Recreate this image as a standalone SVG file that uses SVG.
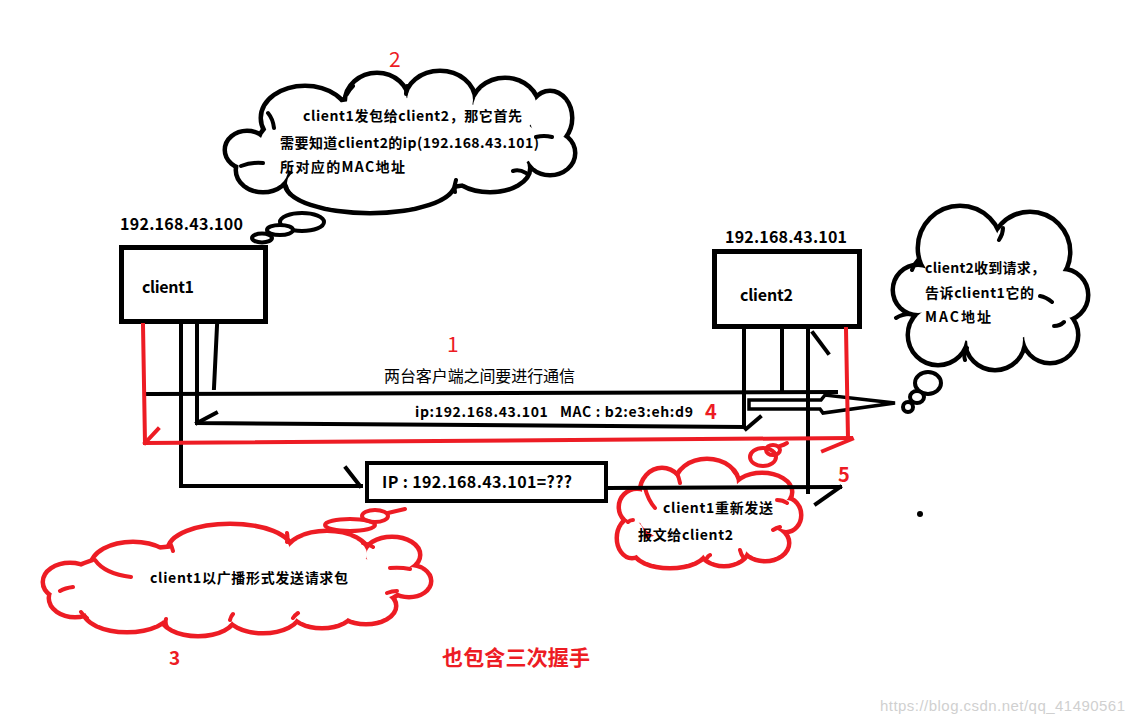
<svg xmlns="http://www.w3.org/2000/svg" width="1132" height="722" viewBox="0 0 1132 722">
<style>
.t{font-family:"Noto Sans CJK SC","Noto Sans",sans-serif;fill:#000}
.b{font-weight:bold}
.r{fill:#ed1c24}
.ln{fill:none;stroke:#000;stroke-width:4;stroke-linecap:square;stroke-linejoin:miter}
.rl{fill:none;stroke:#ed1c24;stroke-width:4;stroke-linecap:square;stroke-linejoin:miter}
.box{fill:#fff;stroke:#000;stroke-width:5}
.kb{fill:#000;stroke:#000;stroke-width:9}
.rb{fill:#ed1c24;stroke:#ed1c24;stroke-width:9}
.kw{fill:#fff;stroke:none}
.hk{fill:none;stroke:#000;stroke-width:4;stroke-linecap:round}
.hr{fill:none;stroke:#ed1c24;stroke-width:4;stroke-linecap:round}
.bub{fill:#fff;stroke:#000;stroke-width:4}
.bubr{fill:none;stroke:#ed1c24;stroke-width:4}
</style>
<defs>
<g id="shTop">
<ellipse cx="305" cy="118" rx="42" ry="30"/><ellipse cx="377" cy="102" rx="30" ry="27"/><ellipse cx="440" cy="100" rx="33" ry="27"/><ellipse cx="505" cy="108" rx="32" ry="28"/><ellipse cx="550" cy="118" rx="20" ry="25"/><ellipse cx="550" cy="153" rx="23" ry="20"/><ellipse cx="490" cy="168" rx="38" ry="22"/><ellipse cx="370" cy="183" rx="83" ry="28"/><ellipse cx="263" cy="170" rx="25" ry="20"/><ellipse cx="247" cy="150" rx="20" ry="17"/><ellipse cx="400" cy="143" rx="140" ry="45"/>
</g>
<g id="shRight">
<circle cx="960" cy="248" r="40"/><circle cx="1030" cy="252" r="38"/><circle cx="1062" cy="295" r="24"/><circle cx="1050" cy="335" r="26"/><circle cx="995" cy="340" r="28"/><circle cx="938" cy="335" r="28"/><circle cx="918" cy="290" r="23"/><ellipse cx="990" cy="292" rx="68" ry="52"/>
</g>
<g id="shBL">
<ellipse cx="70" cy="582" rx="25" ry="17"/><ellipse cx="133" cy="566" rx="40" ry="22"/><ellipse cx="230" cy="550" rx="60" ry="24"/><ellipse cx="327" cy="554" rx="40" ry="21"/><ellipse cx="392" cy="555" rx="26" ry="16"/><ellipse cx="409" cy="581" rx="20" ry="14"/><ellipse cx="366" cy="606" rx="28" ry="16"/><ellipse cx="322" cy="610" rx="30" ry="16"/><ellipse cx="263" cy="613" rx="35" ry="18"/><ellipse cx="198" cy="615" rx="36" ry="19"/><ellipse cx="127" cy="610" rx="42" ry="20"/><ellipse cx="75" cy="598" rx="24" ry="17"/><ellipse cx="235" cy="582" rx="170" ry="36"/>
</g>
<g id="shBM">
<ellipse cx="662" cy="492" rx="20" ry="22"/><ellipse cx="707" cy="484" rx="30" ry="23"/><ellipse cx="762" cy="492" rx="28" ry="17"/><ellipse cx="786" cy="515" rx="13" ry="15"/><ellipse cx="765" cy="543" rx="22" ry="16"/><ellipse cx="724" cy="548" rx="23" ry="16"/><ellipse cx="670" cy="550" rx="35" ry="16"/><ellipse cx="632" cy="538" rx="13" ry="18"/><ellipse cx="637" cy="507" rx="16" ry="16"/><ellipse cx="710" cy="515" rx="72" ry="33"/>
</g>
</defs>
<rect x="0" y="0" width="1132" height="722" fill="#fff"/>

<g id="cloud-top">
<use href="#shTop" class="kb"/><use href="#shTop" class="kw"/>
<path class="hk" d="M268,113 q5,6 6,15 M353,86 q-4,4 -6,8 M407,86 q-1,4 -1,8 M536,137 q8,-2 16,0 M513,171 q6,-2 13,2 M455,192 q-1,-6 1,-12 M290,194 q-3,-3 -4,-8 M241,166 q10,-4 22,-3"/>
<ellipse class="bub" cx="302" cy="222" rx="22" ry="9"/>
<ellipse class="bub" cx="280" cy="230" rx="13" ry="5"/>
<ellipse class="bub" cx="262" cy="238" rx="10" ry="4.5"/>
<text class="t b" x="303" y="121" font-size="14" textLength="219">client1发包给client2，那它首先</text>
<text class="t b" x="280" y="148" font-size="14" textLength="259">需要知道client2的ip(192.168.43.101)</text>
<text class="t b" x="280" y="172" font-size="14" textLength="125">所对应的MAC地址</text>
</g>

<g id="cloud-right">
<use href="#shRight" class="kb"/><use href="#shRight" class="kw"/>
<path class="hk" d="M912,270 q2,-6 6,-10 M1003,228 q0,6 -4,12 M1040,296 q6,1 12,6 M1064,322 q-4,4 -10,4 M965,360 q-2,-6 2,-12 M910,314 q-8,0 -14,4"/>
<ellipse class="bub" cx="928" cy="383" rx="13" ry="11"/>
<ellipse class="bub" cx="917" cy="397" rx="7" ry="6"/>
<circle class="bub" cx="908" cy="407" r="5"/>
<text class="t b" x="925" y="273" font-size="14" textLength="120">client2收到请求，</text>
<text class="t b" x="925" y="298" font-size="14" textLength="109">告诉client1它的</text>
<text class="t b" x="925" y="322" font-size="14" textLength="66">MAC地址</text>
</g>

<g id="cloud-bottom-left">
<use href="#shBL" class="rb"/><use href="#shBL" class="kw"/>
<path class="hr" d="M95,560 q10,14 36,17 M73,587 q-8,1 -13,4 M170,543 q2,4 3,8 M287,533 q1,5 0,9 M363,543 q6,1 10,4 M390,568 q10,-1 20,1 M387,593 q5,-2 10,-2 M293,618 q2,-3 5,-5 M230,620 q1,-4 3,-6 M167,627 q-2,-4 -1,-8 M87,618 q-4,-3 -6,-6"/>
<ellipse class="bubr" cx="350" cy="525" rx="25" ry="6"/>
<ellipse class="bubr" cx="375" cy="516" rx="13" ry="6"/>
<path class="hr" d="M388,513 q8,-2 17,-4"/>
<text class="t b" x="150" y="583" font-size="14" textLength="198">client1以广播形式发送请求包</text>
</g>

<g id="cloud-bottom-mid">
<use href="#shBM" class="rb"/><use href="#shBM" class="kw"/>
<path class="hr" d="M645,488 q3,12 10,20 M677,473 q2,5 3,10 M733,470 q2,3 4,5 M777,500 q6,0 10,3 M780,527 q-4,1 -7,3 M740,550 q1,4 3,7 M707,558 q1,-2 3,-3 M633,520 q-3,0 -5,2"/>
<ellipse class="bubr" cx="763" cy="457" rx="13" ry="9"/>
<ellipse class="bubr" cx="773" cy="450" rx="7" ry="5"/>
<path class="hr" d="M780,446 q4,-1 7,-3"/>
<text class="t b" x="663" y="513" font-size="14" textLength="110">client1重新发送</text>
<text class="t b" x="638" y="540" font-size="14" textLength="95">报文给client2</text>
</g>

<g id="client1">
<rect class="box" x="121.5" y="247.5" width="144" height="74"/>
<text class="t b" x="142" y="293" font-size="16" textLength="52">client1</text>
<text class="t b" x="120" y="230" font-size="16" textLength="123">192.168.43.100</text>
</g>

<g id="client2">
<rect class="box" x="714.5" y="251.5" width="145" height="75"/>
<text class="t b" x="740" y="301" font-size="16" textLength="53">client2</text>
<text class="t b" x="725" y="243" font-size="16" textLength="122">192.168.43.101</text>
</g>

<g id="ip-box">
<rect x="367" y="463" width="239" height="38" fill="none" stroke="#000" stroke-width="4"/>
<text class="t b" x="382" y="488" font-size="16" textLength="190">IP : 192.168.43.101=???</text>
</g>

<g id="connectors">
<polyline class="ln" points="181,326 181,486 361,486"/>
<line class="ln" x1="346" y1="468" x2="360" y2="486"/>
<polyline class="ln" points="744,330 744,427 197,423 197,326"/>
<line class="ln" x1="197" y1="423" x2="216" y2="413"/>
<line class="ln" x1="746" y1="429" x2="760" y2="417"/>
<line class="ln" x1="217" y1="326" x2="214" y2="388"/>
<line class="ln" x1="148" y1="394" x2="836" y2="392"/>
<line class="ln" x1="782" y1="330" x2="782" y2="390"/>
<line class="ln" x1="813" y1="333" x2="828" y2="353"/>
<polygon points="749,400 821,400 825,395 895,403 823,413 820,409 749,409" fill="none" stroke="#000" stroke-width="3.5" stroke-linejoin="miter"/>
<line class="ln" x1="808" y1="330" x2="808" y2="492"/>
<line class="ln" x1="608" y1="488" x2="840" y2="487"/>
<line class="ln" x1="840" y1="487" x2="816" y2="504"/>
<polyline class="rl" points="143,325 145,443 851,438"/>
<line class="rl" x1="145" y1="443" x2="158" y2="429"/>
<line class="rl" x1="846" y1="329" x2="848" y2="438"/>
<line class="rl" x1="852" y1="439" x2="823" y2="451"/>
<circle cx="920" cy="514" r="3" fill="#000"/>
</g>

<g id="labels">
<text class="t r" x="389" y="67" font-size="21">2</text>
<text class="t r" x="447" y="352" font-size="21">1</text>
<text class="t" x="384" y="382" font-size="16" textLength="191">两台客户端之间要进行通信</text>
<text class="t b" x="415" y="417" font-size="14" textLength="278" style="white-space:pre">ip:192.168.43.101   MAC : b2:e3:eh:d9</text>
<text class="t b r" x="705" y="419" font-size="20">4</text>
<text class="t b r" x="838" y="482" font-size="20">5</text>
<text class="t b r" x="169" y="665" font-size="19">3</text>
<text class="t b r" x="442" y="665" font-size="21" textLength="148">也包含三次握手</text>
<text x="880" y="711" font-family="Liberation Sans, sans-serif" font-size="15" fill="#d0d0d0" textLength="245">https://blog.csdn.net/qq_41490561</text>
</g>
</svg>
